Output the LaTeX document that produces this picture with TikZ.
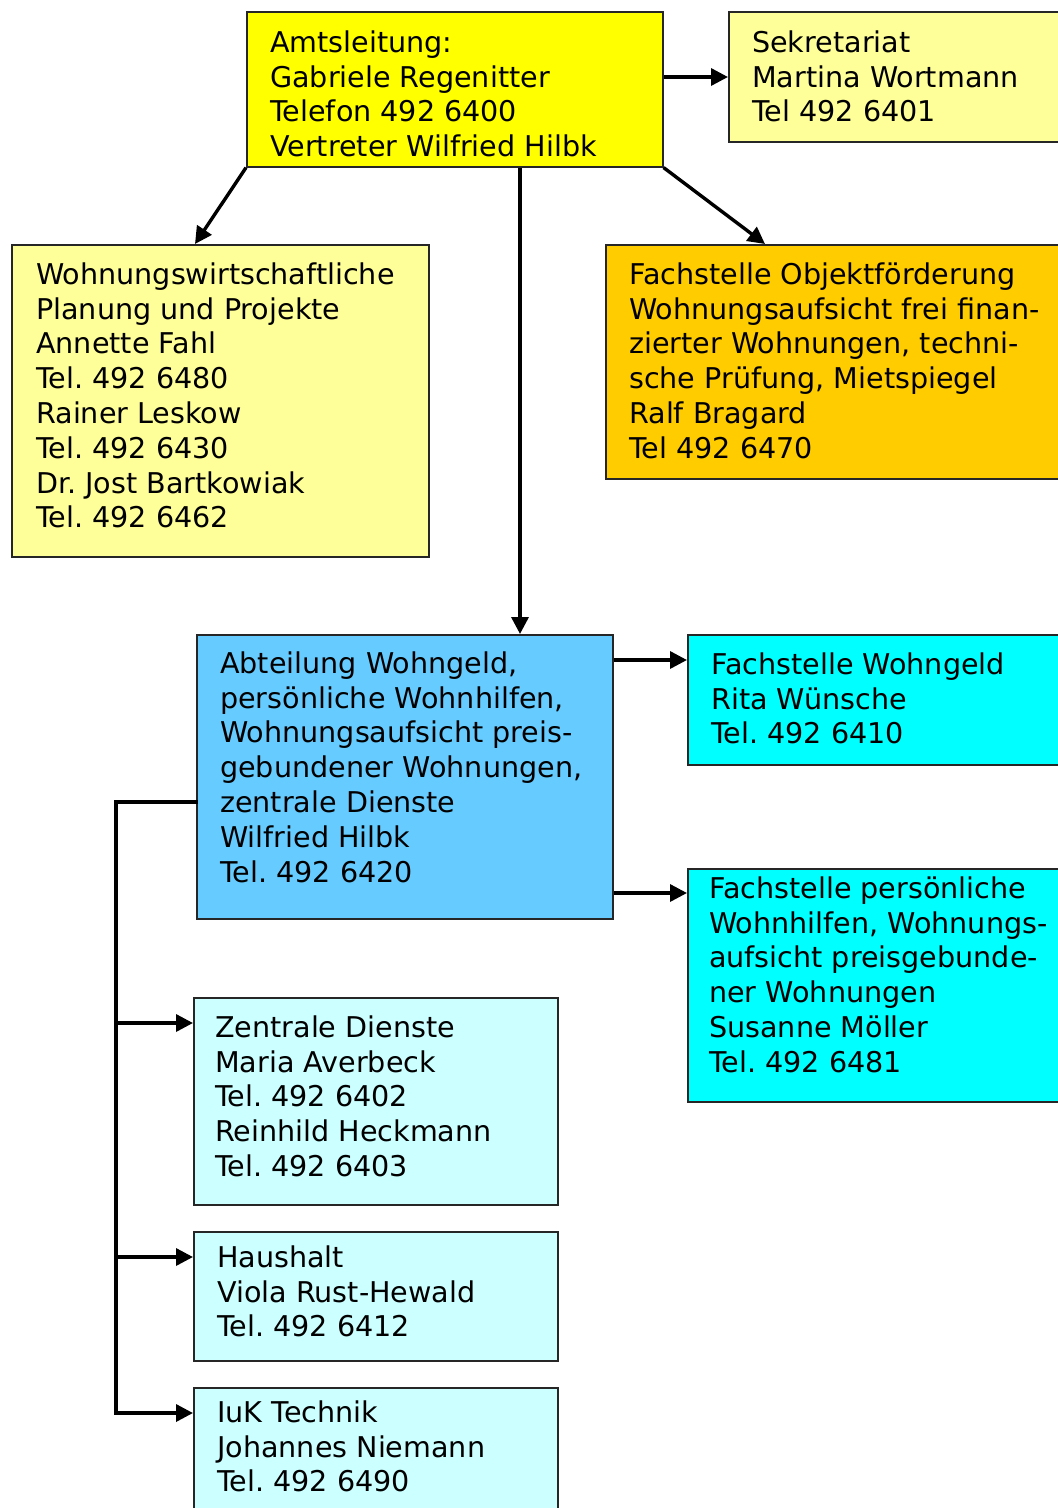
\documentclass[tikz,border=0pt]{standalone}
\usepackage{fontspec}
\setmainfont{DejaVu Sans}
\usetikzlibrary{arrows.meta,calc}
\definecolor{cAmt}{HTML}{FFFF00}
\definecolor{cPale}{HTML}{FFFF99}
\definecolor{cOrange}{HTML}{FFCC00}
\definecolor{cBlue}{HTML}{66CCFF}
\definecolor{cCyan}{HTML}{00FFFF}
\definecolor{cLight}{HTML}{CCFFFF}
\tikzset{
  box/.style={draw=black!85, line width=1.6pt, rectangle, inner sep=0pt, anchor=north west},
  txt/.style={anchor=north west, inner sep=0pt, align=left,
    font={\fontsize{28.6}{34.8}\selectfont\frenchspacing}},
  arr/.style={draw=black, line width=3.4pt, -{Triangle[length=17pt,width=17pt]}},
  ln/.style={draw=black, line width=3.4pt, line cap=rect, line join=miter}
}
\newcommand{\fl}{\rule{0pt}{25pt}}
\begin{document}
\begin{tikzpicture}[x=1pt,y=-1pt]
\useasboundingbox (0,0) rectangle (1058,1508);
\clip (0,0) rectangle (1058,1508);
\fill[white] (0,0) rectangle (1058,1508);
% boxes
\node[box, fill=cAmt, minimum width=416pt, minimum height=155pt] (amt) at (246,11) {};
\node[box, fill=cPale, minimum width=345pt, minimum height=130pt] (sek) at (728,11) {};
\node[box, fill=cPale, minimum width=417pt, minimum height=312pt] (wohn) at (11,244) {};
\node[box, fill=cOrange, minimum width=470pt, minimum height=234pt] (obj) at (605,244) {};
\node[box, fill=cBlue, minimum width=416pt, minimum height=284pt] (abt) at (196,634) {};
\node[box, fill=cCyan, minimum width=390pt, minimum height=130pt] (fw) at (687,634) {};
\node[box, fill=cCyan, minimum width=390pt, minimum height=233pt] (fp) at (687,868) {};
\node[box, fill=cLight, minimum width=364pt, minimum height=207pt] (zd) at (193,997) {};
\node[box, fill=cLight, minimum width=364pt, minimum height=129pt] (hh) at (193,1231) {};
\node[box, fill=cLight, minimum width=364pt, minimum height=150pt] (iuk) at (193,1387) {};
% texts
\node[txt] (tamt) at (270,27) {\fl Amtsleitung:\\Gabriele Regenitter\\Telefon 492 6400\\Vertreter Wilfried Hilbk};
\node[txt] (tsek) at (752,27) {\fl Sekretariat\\Martina Wortmann\\Tel 492 6401};
\node[txt] (twohn) at (36,259) {\fl Wohnungswirtschaftliche\\Planung und Projekte\\Annette Fahl\\Tel. 492 6480\\Rainer Leskow\\Tel. 492 6430\\Dr. Jost Bartkowiak\\Tel. 492 6462};
\node[txt] (tobj) at (629,259) {\fl Fachstelle Objektförderung\\Wohnungsaufsicht frei finan-\\zierter Wohnungen, techni-\\sche Prüfung, Mietspiegel\\Ralf Bragard\\Tel 492 6470};
\node[txt] (tabt) at (220,648) {\fl Abteilung Wohngeld,\\persönliche Wohnhilfen,\\Wohnungsaufsicht preis-\\gebundener Wohnungen,\\zentrale Dienste\\Wilfried Hilbk\\Tel. 492 6420};
\node[txt] (tfw) at (711,649) {\fl Fachstelle Wohngeld\\Rita Wünsche\\Tel. 492 6410};
\node[txt] (tfp) at (709,873) {\fl Fachstelle persönliche\\Wohnhilfen, Wohnungs-\\aufsicht preisgebunde-\\ner Wohnungen\\Susanne Möller\\Tel. 492 6481};
\node[txt] (tzd) at (215,1012) {\fl Zentrale Dienste\\Maria Averbeck\\Tel. 492 6402\\Reinhild Heckmann\\Tel. 492 6403};
\node[txt] (thh) at (217,1242) {\fl Haushalt\\Viola Rust-Hewald\\Tel. 492 6412};
\node[txt] (tiuk) at (217,1397) {\fl IuK Technik\\Johannes Niemann\\Tel. 492 6490};
% connectors
\draw[arr] ([yshift=-66pt]sek.north west -| amt.east) -- ([yshift=-66pt]sek.north west);
\draw[arr] (amt.south west) -- ([xshift=184pt]wohn.north west);
\draw[arr] (amt.south east) -- ([xshift=160pt]obj.north west);
\draw[arr] ([xshift=274pt]amt.south west) -- ([xshift=274pt]amt.south west |- abt.north);
\draw[arr] ([yshift=-26pt]fw.north west -| abt.east) -- ([yshift=-26pt]fw.north west);
\draw[arr] ([yshift=-25pt]fp.north west -| abt.east) -- ([yshift=-25pt]fp.north west);
\coordinate (br) at (116,802);
\coordinate (bb) at (116,1413);
\draw[ln] (abt.west |- br) -- (br) -- (bb);
\draw[arr] (br |- zd.north) ++(0,26) -- ([yshift=-26pt]zd.north west);
\draw[arr] (br |- hh.north) ++(0,26) -- ([yshift=-26pt]hh.north west);
\draw[arr] (bb) -- ([yshift=-26pt]iuk.north west);
\end{tikzpicture}
\end{document}
